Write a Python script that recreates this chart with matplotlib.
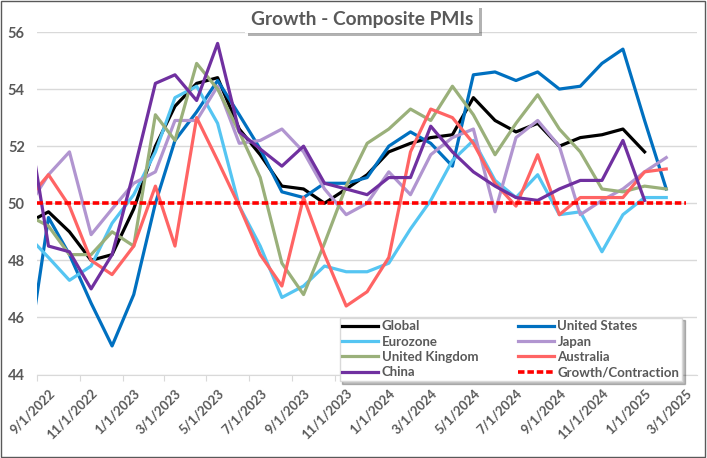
import numpy as np
import pandas as pd
import matplotlib
matplotlib.use('Agg')
import matplotlib.pyplot as plt
import matplotlib.patheffects as pe
import matplotlib.transforms as mtransforms
from matplotlib.patches import Rectangle

# monthly composite PMIs, Aug 2022 .. Feb 2025 (None = no print yet)
months = pd.date_range('2022-08-01', periods=31, freq='MS')

global_pmi = [49.3, 49.7, 49.0, 48.0, 48.2, 49.8, 52.0, 53.4, 54.2, 54.4, 52.6, 51.7, 50.6, 50.5, 50.0, 50.5,
              51.0, 51.8, 52.1, 52.3, 52.4, 53.7, 52.9, 52.5, 52.8, 52.0, 52.3, 52.4, 52.6, 51.8, None]
us_pmi = [44.4, 49.5, 48.2, 46.5, 45.0, 46.8, 50.0, 52.2, 53.2, 54.3, 53.1, 51.9, 50.4, 50.2, 50.7, 50.7,
          50.9, 52.0, 52.5, 52.1, 51.3, 54.5, 54.6, 54.3, 54.6, 54.0, 54.1, 54.9, 55.4, 52.9, 50.5]
eurozone_pmi = [48.9, 48.1, 47.3, 47.8, 49.3, 50.3, 51.8, 53.7, 54.1, 52.8, 49.9, 48.5, 46.7, 47.1, 47.8, 47.6,
                47.6, 47.9, 49.1, 50.1, 51.5, 52.2, 50.8, 50.2, 51.0, 49.6, 49.7, 48.3, 49.6, 50.2, 50.2]
japan_pmi = [49.8, 51.0, 51.8, 48.9, 49.8, 50.7, 51.1, 52.9, 52.9, 54.1, 52.1, 52.2, 52.6, 51.8, 50.5, 49.6,
             50.0, 51.1, 50.3, 51.7, 52.3, 52.6, 49.7, 52.3, 52.9, 52.0, 49.6, 50.1, 50.5, 51.1, 51.6]
uk_pmi = [49.6, 49.2, 48.2, 48.2, 49.0, 48.5, 53.1, 52.2, 54.9, 54.0, 52.5, 50.9, 47.9, 46.8, 48.6, 50.6,
          52.1, 52.6, 53.3, 52.9, 54.1, 53.1, 51.7, 52.8, 53.8, 52.6, 51.8, 50.5, 50.4, 50.6, 50.5]
australia_pmi = [50.1, 51.0, 49.9, 48.0, 47.5, 48.5, 50.6, 48.5, 53.0, 51.5, 49.9, 48.2, 47.1, 50.2, 48.2, 46.4,
                 46.9, 48.1, 51.8, 53.3, 53.0, 52.1, 50.7, 49.9, 51.7, 49.6, 50.2, 50.2, 50.2, 51.1, 51.2]
china_pmi = [53.2, 48.5, 48.3, 47.0, 48.2, 51.1, 54.2, 54.5, 53.6, 55.6, 52.5, 51.9, 51.3, 52.0, 50.7, 50.5,
             50.3, 50.9, 50.9, 52.7, 51.8, 51.1, 50.6, 50.2, 50.1, 50.5, 50.8, 50.8, 52.2, 50.1, None]
growth_level = 50

series = [
    ('Global', global_pmi, '#000000'),
    ('United States', us_pmi, '#0070C0'),
    ('Eurozone', eurozone_pmi, '#55C5F2'),
    ('Japan', japan_pmi, '#B195D0'),
    ('United Kingdom', uk_pmi, '#9AB07A'),
    ('Australia', australia_pmi, '#FF6464'),
    ('China', china_pmi, '#7030A0'),
]

plt.rcParams['font.family'] = ['Lato', 'DejaVu Sans']
grey = '#595959'

fig = plt.figure(figsize=(7.07, 4.58), dpi=100)
ax = fig.add_axes([37.3 / 707, 1 - 374.5 / 458, (697 - 37.3) / 707, (374.5 - 32) / 458])

# points sit mid-month on the date axis
x = months + pd.Timedelta(days=16)

handles = {}
for name, vals, col in series:
    y = np.array([np.nan if v is None else v for v in vals], dtype=float)
    h, = ax.plot(x, y, color=col, lw=2.3, solid_joinstyle='round', label=name)
    handles[name] = h

xg = pd.date_range('2022-08-01', '2025-03-01', freq='MS') + pd.Timedelta(days=16)
h, = ax.plot(xg, [growth_level] * len(xg), color='#FF0000', lw=2.6, ls=(0, (1.8, 0.8)),
             label='Growth/Contraction')
handles['Growth/Contraction'] = h

ax.set_xlim(pd.Timestamp('2022-09-01'), pd.Timestamp('2025-04-02'))
ax.set_ylim(44, 56)
ax.set_yticks(np.arange(44, 57, 2))
ticks = pd.date_range('2022-09-01', '2025-03-01', freq='2MS')
ax.set_xticks(ticks)
ax.set_xticklabels([f'{d.month}/{d.day}/{d.year}' for d in ticks], rotation=45, ha='right',
                   va='center', rotation_mode='anchor')
ax.grid(axis='y', color='#D9D9D9', lw=1)
ax.set_axisbelow(True)
for s in ['top', 'right', 'left']:
    ax.spines[s].set_visible(False)
ax.spines['bottom'].set_color('#D9D9D9')
ax.tick_params(axis='y', length=0, pad=9, labelsize=10.5, labelcolor=grey)
ax.tick_params(axis='x', length=4, color='#D9D9D9', pad=8, labelsize=9.4, labelcolor=grey)
# Excel-style placement: rotated labels sit a bit right of their tick
shift = mtransforms.ScaledTranslation(11 / 72, 0, fig.dpi_scale_trans)
for lab in ax.get_xticklabels():
    lab.set_transform(lab.get_transform() + shift)
for lab in ax.get_xticklabels() + ax.get_yticklabels():
    lab.set_fontweight('bold')

order = ['Global', 'Eurozone', 'United Kingdom', 'China',
         'United States', 'Japan', 'Australia', 'Growth/Contraction']
leg = ax.legend([handles[k] for k in order], order, ncol=2, loc='upper left',
                bbox_to_anchor=(333 / 707, 1 - 311 / 458), bbox_transform=fig.transFigure,
                prop={'weight': 'bold', 'size': 9.5}, labelcolor=grey, handlelength=2.7,
                handletextpad=0.3, columnspacing=3.0, labelspacing=0.25, borderpad=0.2,
                frameon=True, fancybox=False, edgecolor='#D9D9D9', framealpha=1,
                shadow={'ox': 2, 'oy': -2, 'color': 'black', 'alpha': 0.25})

t = fig.text(0.512, 1 - 19 / 458, 'Growth - Composite PMIs', ha='center', va='center',
             fontsize=13.8, fontweight='bold', color=grey,
             bbox=dict(boxstyle='square,pad=0.3', fc='white', ec='none'))
t.get_bbox_patch().set_path_effects([pe.withSimplePatchShadow(offset=(2, -2), shadow_rgbFace='k', alpha=0.3),
                                     pe.Normal()])

fig.patches.append(Rectangle((0.002, 0.003), 0.995, 0.994, transform=fig.transFigure,
                             fill=False, ec=grey, lw=1))

fig.savefig('out.png', dpi=100)
